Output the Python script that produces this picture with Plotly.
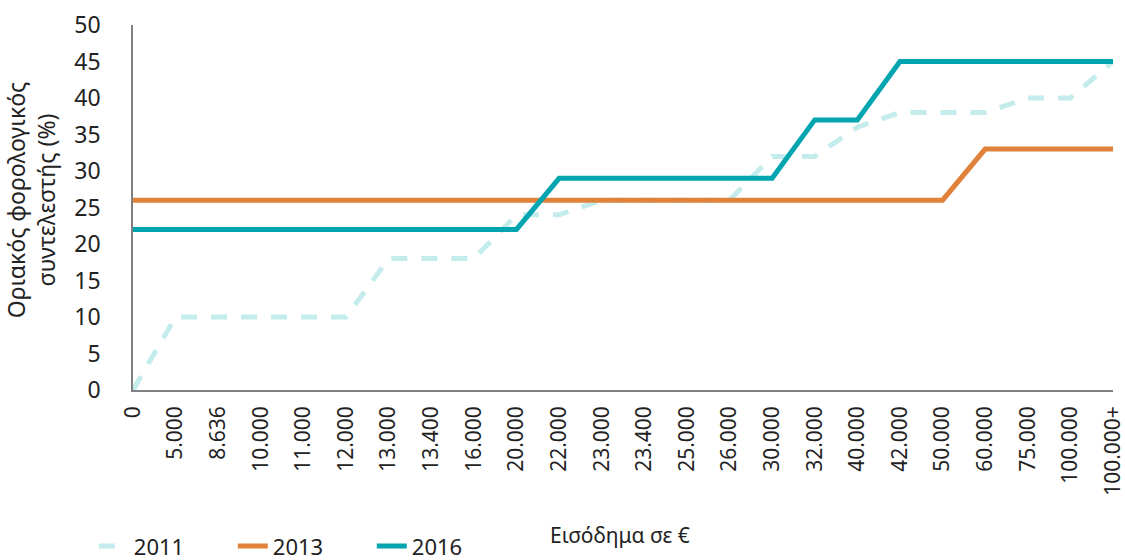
import plotly.graph_objects as go

categories = ["0", "5.000", "8.636", "10.000", "11.000", "12.000", "13.000", "13.400",
              "16.000", "20.000", "22.000", "23.000", "23.400", "25.000", "26.000",
              "30.000", "32.000", "40.000", "42.000", "50.000", "60.000", "75.000",
              "100.000", "100.000+"]
y2011 = [0, 10, 10, 10, 10, 10, 18, 18, 18, 24, 24, 26, 26, 26, 26, 32, 32, 36, 38, 38, 38, 40, 40, 45]
y2013 = [26, 26, 26, 26, 26, 26, 26, 26, 26, 26, 26, 26, 26, 26, 26, 26, 26, 26, 26, 26, 33, 33, 33, 33]
y2016 = [22, 22, 22, 22, 22, 22, 22, 22, 22, 22, 29, 29, 29, 29, 29, 29, 37, 37, 45, 45, 45, 45, 45, 45]
ytick_vals = [0, 5, 10, 15, 20, 25, 30, 35, 40, 45, 50]

FONT = "Noto Sans"
fig = go.Figure()
fig.add_trace(go.Scatter(x=categories, y=y2011, name="2011", mode="lines",
                         line=dict(color="#c5ecec", width=5, dash="16px,14px")))
fig.add_trace(go.Scatter(x=categories, y=y2013, name="2013", mode="lines",
                         line=dict(color="#e0823a", width=5)))
fig.add_trace(go.Scatter(x=categories, y=y2016, name="2016", mode="lines",
                         line=dict(color="#00a5b0", width=5)))

fig.update_layout(
    width=1125, height=560,
    margin=dict(l=133, r=12, t=25, b=170, autoexpand=False),
    plot_bgcolor="white", paper_bgcolor="white",
    font=dict(family=FONT, color="#222222"),
    showlegend=True,
    legend=dict(orientation="h", x=-0.04, y=-0.428, xanchor="left", yanchor="middle",
                font=dict(size=22, family=FONT), itemwidth=30,
                entrywidth=94, entrywidthmode="pixels",
                bgcolor="rgba(0,0,0,0)"),
    xaxis=dict(type="category", range=[0, 23], showgrid=False, showline=True,
               linecolor="#808080", linewidth=1.5, tickangle=-90, ticks="",
               tickfont=dict(size=21, family=FONT), ticklabelstandoff=6, zeroline=False,
               automargin=False),
    yaxis=dict(range=[0, 50], tickvals=ytick_vals, showgrid=False, showline=True,
               linecolor="#808080", linewidth=1.5, ticks="",
               tickfont=dict(size=23, family=FONT), ticklabelstandoff=26, zeroline=False,
               automargin=False),
    annotations=[
        dict(text="Εισόδημα σε €", x=0.497, y=-0.397, xref="paper", yref="paper",
             showarrow=False, font=dict(size=21, family=FONT), xanchor="center", yanchor="middle"),
        dict(text="Οριακός φορολογικός<br>συντελεστής (%)", x=-0.104, y=0.52,
             xref="paper", yref="paper", showarrow=False, textangle=-90,
             font=dict(size=23, family=FONT), xanchor="center", yanchor="middle"),
    ],
)
fig.write_html("out.html", config={"displayModeBar": False},
               post_script="document.body.style.margin='0';")
